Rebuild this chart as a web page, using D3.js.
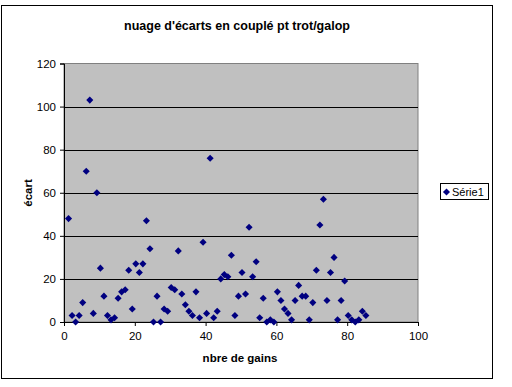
<!DOCTYPE html>
<html>
<head>
<meta charset="utf-8">
<script src="https://cdn.jsdelivr.net/npm/d3@7"></script>
<style>
  body { margin: 0; background: #fff; }
  text { font-family: "Liberation Sans", Arial, sans-serif; }
</style>
</head>
<body>
<svg id="chart" width="512" height="387"></svg>
<script>
// nbre de gains (x) and écart (y)
var gains = [1,2,3,4,5,6,7,8,9,10,11,12,13,14,15,16,17,18,19,20,
  21,22,23,24,25,26,27,28,29,30,31,32,33,34,35,36,37,38,39,40,
  41,42,43,44,45,46,47,48,49,50,51,52,53,54,55,56,57,58,59,60,
  61,62,63,64,65,66,67,68,69,70,71,72,73,74,75,76,77,78,79,80,
  81,82,83,84,85];
var ecarts = [48,3,0,3,9,70,103,4,60,25,12,3,1,2,11,14,15,24,6,27,
  23,27,47,34,0,12,0,6,5,16,15,33,13,8,5,3,14,2,37,4,
  76,2,5,20,22,21,31,3,12,23,13,44,21,28,2,11,0,1,0,14,
  10,6,4,1,10,17,12,12,1,9,24,45,57,10,23,30,1,10,19,3,
  1,0,1,5,3];
var xTicks = [0,20,40,60,80,100];
var yTicks = [0,20,40,60,80,100,120];
var seriesName = "Série1";

var svg = d3.select("#chart");
var plot = {left: 64, right: 418, top: 63.5, bottom: 322};

var x = d3.scaleLinear().domain([0,100]).range([plot.left, plot.right]);
var y = d3.scaleLinear().domain([0,120]).range([plot.bottom, plot.top]);

// outer chart frame
svg.append("rect")
  .attr("x", 1.5).attr("y", 5.5).attr("width", 491).attr("height", 373)
  .attr("fill", "#fff").attr("stroke", "#000");

svg.append("text")
  .attr("x", 237).attr("y", 30)
  .attr("text-anchor", "middle")
  .attr("font-size", 12.5).attr("font-weight", "bold")
  .text("nuage d'écarts en couplé pt trot/galop");

// plot area
svg.append("rect")
  .attr("x", plot.left).attr("y", plot.top)
  .attr("width", plot.right - plot.left).attr("height", plot.bottom - plot.top)
  .attr("fill", "#c0c0c0").attr("stroke", "#808080");

svg.append("g")
  .selectAll("line")
  .data(yTicks.filter(function(d){ return d > 0 && d < 120; }))
  .enter().append("line")
  .attr("x1", plot.left).attr("x2", plot.right)
  .attr("y1", function(d){ return Math.round(y(d)) + 0.5; })
  .attr("y2", function(d){ return Math.round(y(d)) + 0.5; })
  .attr("stroke", "#000");

var xAxis = svg.append("g")
  .attr("transform", "translate(0," + plot.bottom + ")")
  .call(d3.axisBottom(x).tickValues(xTicks).tickSize(4).tickPadding(6));
var yAxis = svg.append("g")
  .attr("transform", "translate(" + plot.left + ",0)")
  .call(d3.axisLeft(y).tickValues(yTicks).tickSize(4).tickPadding(4));

[xAxis, yAxis].forEach(function(g){
  g.select(".domain").attr("stroke", "#000");
  g.selectAll(".tick line").attr("stroke", "#000");
  g.selectAll(".tick text")
    .attr("font-family", "Liberation Sans, Arial, sans-serif")
    .attr("font-size", 11.5).attr("fill", "#000");
});

svg.append("text")
  .attr("x", 240).attr("y", 362)
  .attr("text-anchor", "middle")
  .attr("font-size", 11.5).attr("font-weight", "bold")
  .text("nbre de gains");

svg.append("text")
  .attr("transform", "translate(32,193) rotate(-90)")
  .attr("text-anchor", "middle")
  .attr("font-size", 11.5).attr("font-weight", "bold")
  .text("écart");

var diamond = d3.symbol().type(d3.symbolDiamond2).size(32);

// markers sit about one pixel right of the tick in the original
svg.append("g")
  .attr("transform", "translate(1,0)")
  .selectAll("path")
  .data(gains.map(function(g, i){ return [g, ecarts[i]]; }))
  .enter().append("path")
  .attr("d", diamond)
  .attr("transform", function(d){ return "translate(" + x(d[0]) + "," + y(d[1]) + ")"; })
  .attr("fill", "#000080");

// legend
var legend = svg.append("g");
legend.append("rect")
  .attr("x", 440.5).attr("y", 183.5).attr("width", 48).attr("height", 16)
  .attr("fill", "#fff").attr("stroke", "#000");
legend.append("path")
  .attr("d", diamond)
  .attr("transform", "translate(446.5,192)")
  .attr("fill", "#000080");
legend.append("text")
  .attr("x", 452).attr("y", 196)
  .attr("font-size", 11)
  .text(seriesName);
</script>
</body>
</html>
